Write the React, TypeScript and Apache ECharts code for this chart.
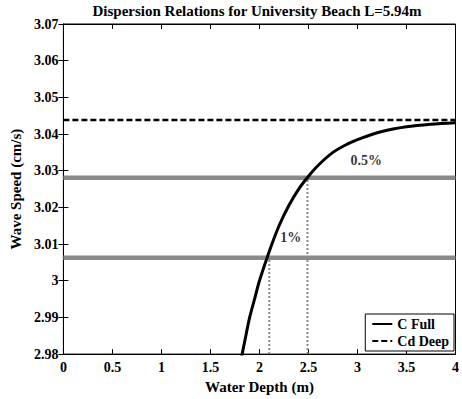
import React, { useEffect, useRef } from "react";
import * as echarts from "echarts";

const depthFull = [1.8, 1.85, 1.9, 1.95, 2.0, 2.1, 2.2, 2.3, 2.4, 2.5, 2.6, 2.75, 2.9, 3.0, 3.25, 3.5, 3.75, 4.0];
const speedFull = [2.977, 2.9835, 2.99, 2.995, 3.0, 3.008, 3.015, 3.0205, 3.025, 3.0285, 3.0315, 3.035, 3.0373, 3.0385, 3.0407, 3.042, 3.0427, 3.0431];
const deepSpeed = 3.0438;
const xRange = [0, 4];
const level05 = 3.0281;
const level1 = 3.0063;
const depth05 = 2.49;
const depth1 = 2.1;
const yBottom = 2.98;
const notes = [
  { x: 3.09, y: 3.0327, text: "0.5%" },
  { x: 2.32, y: 3.0117, text: "1%" },
];

const FONT = "Liberation Serif";

export default function App() {
  const ref = useRef<HTMLDivElement>(null);
  useEffect(() => {
    if (!ref.current) return;
    const chart = echarts.init(ref.current, undefined, { renderer: "svg" });
    const fmt = (v: number) => String(+Number(v).toFixed(2));
    const gray = "#8a8a8a";
    chart.setOption({
      animation: false,
      backgroundColor: "#fff",
      title: {
        text: "Dispersion Relations for University Beach L=5.94m",
        left: 257,
        textAlign: "center",
        top: 3,
        padding: 0,
        textStyle: { fontFamily: FONT, fontWeight: "bold", fontSize: 15, color: "#000" },
      },
      grid: { left: 57, right: 6, top: 24, bottom: 40, show: true, borderColor: "#000", borderWidth: 1, containLabel: false },
      legend: {
        data: ["C Full", "Cd Deep"],
        orient: "vertical",
        right: 8,
        bottom: 48,
        itemWidth: 20,
        itemHeight: 10,
        itemGap: 3,
        padding: [3, 5, 3, 6],
        borderColor: "#000",
        borderWidth: 1,
        backgroundColor: "#fff",
        itemStyle: { opacity: 0 },
        textStyle: { fontFamily: FONT, fontWeight: "bold", fontSize: 14, color: "#000" },
      },
      xAxis: [
        {
          type: "value",
          min: 0,
          max: 4,
          interval: 0.5,
          name: "Water Depth (m)",
          nameLocation: "middle",
          nameGap: 18,
          nameTextStyle: { fontFamily: FONT, fontWeight: "bold", fontSize: 15, color: "#000" },
          axisLine: { lineStyle: { color: "#000" } },
          axisTick: { inside: true, length: 5, lineStyle: { color: "#000" } },
          axisLabel: { formatter: fmt, margin: 6, fontFamily: FONT, fontWeight: "bold", fontSize: 14, color: "#000" },
          splitLine: { show: false },
        },
        {
          type: "value",
          position: "top",
          min: 0,
          max: 4,
          interval: 0.5,
          axisLine: { lineStyle: { color: "#000" } },
          axisTick: { inside: true, length: 5, lineStyle: { color: "#000" } },
          axisLabel: { show: false },
          splitLine: { show: false },
        },
      ],
      yAxis: [
        {
          type: "value",
          min: 2.98,
          max: 3.07,
          interval: 0.01,
          name: "Wave Speed (cm/s)",
          nameLocation: "middle",
          nameGap: 23,
          nameTextStyle: { fontFamily: FONT, fontWeight: "bold", fontSize: 15, color: "#000" },
          axisLine: { show: true, lineStyle: { color: "#000" } },
          axisTick: { show: true, inside: true, length: 5, lineStyle: { color: "#000" } },
          axisLabel: { formatter: fmt, margin: 5, fontFamily: FONT, fontWeight: "bold", fontSize: 14, color: "#000" },
          splitLine: { show: false },
        },
        {
          type: "value",
          position: "right",
          min: 2.98,
          max: 3.07,
          interval: 0.01,
          axisLine: { show: true, lineStyle: { color: "#000" } },
          axisTick: { show: true, inside: true, length: 5, lineStyle: { color: "#000" } },
          axisLabel: { show: false },
          splitLine: { show: false },
        },
      ],
      series: [
        {
          name: "0.5% level",
          type: "line",
          data: xRange.map((x) => [x, level05]),
          symbol: "none",
          lineStyle: { color: gray, width: 4.5 },
          z: 1,
        },
        {
          name: "1% level",
          type: "line",
          data: xRange.map((x) => [x, level1]),
          symbol: "none",
          lineStyle: { color: gray, width: 4.5 },
          z: 1,
        },
        {
          name: "d05",
          type: "line",
          data: [[depth05, yBottom], [depth05, level05]],
          symbol: "none",
          lineStyle: { color: gray, width: 2, type: [2, 2] },
          z: 1,
        },
        {
          name: "d1",
          type: "line",
          data: [[depth1, yBottom], [depth1, level1]],
          symbol: "none",
          lineStyle: { color: gray, width: 2, type: [2, 2] },
          z: 1,
        },
        {
          name: "C Full",
          type: "line",
          data: depthFull.map((d, i) => [d, speedFull[i]]),
          symbol: "none",
          smooth: 0.3,
          clip: true,
          color: "#000",
          lineStyle: { color: "#000", width: 3 },
          z: 3,
        },
        {
          name: "Cd Deep",
          type: "line",
          data: xRange.map((x) => [x, deepSpeed]),
          symbol: "none",
          color: "#000",
          lineStyle: { color: "#000", width: 2.5, type: [6, 3] },
          z: 2,
        },
        {
          name: "notes",
          type: "scatter",
          data: notes.map((n) => [n.x, n.y, n.text]),
          symbolSize: 0,
          label: {
            show: true,
            position: "inside",
            formatter: (p: any) => p.value[2],
            fontFamily: FONT,
            fontWeight: "bold",
            fontSize: 14,
            color: "#000",
          },
          z: 4,
        },
      ],
    });
    return () => chart.dispose();
  }, []);
  return <div ref={ref} style={{ width: 462, height: 399, position: "absolute", left: 0, top: 0 }} />;
}
